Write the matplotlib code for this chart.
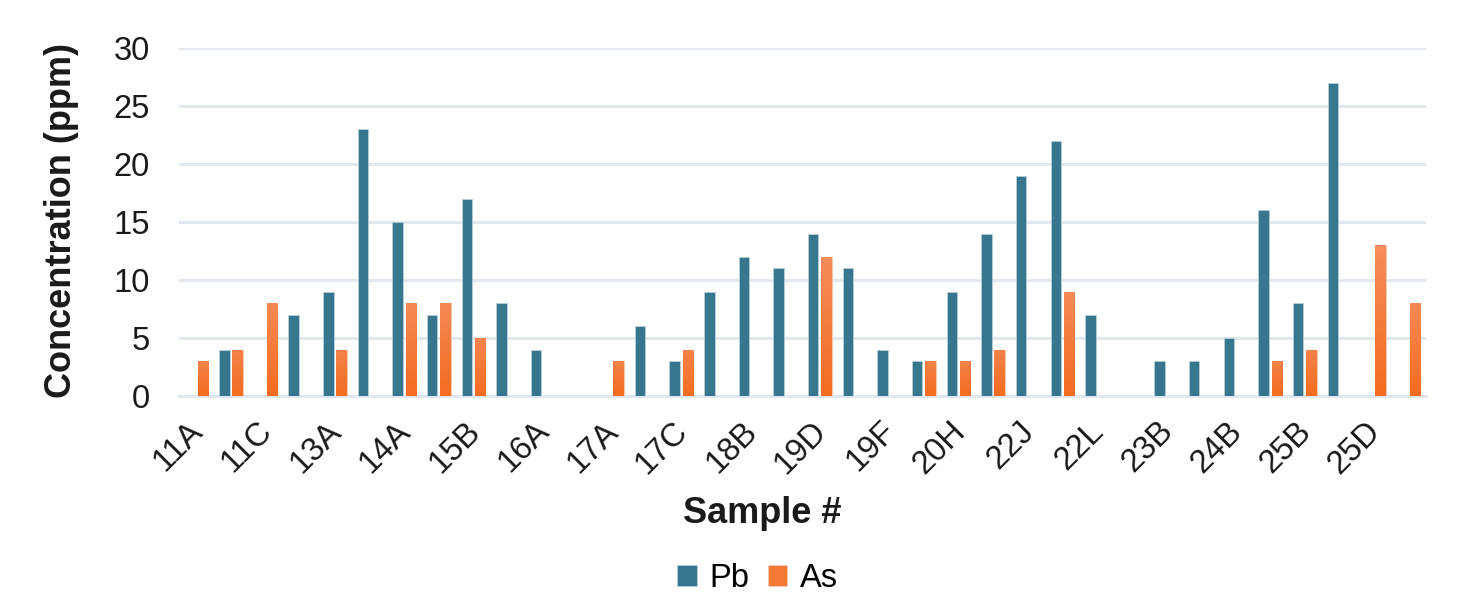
import matplotlib.pyplot as plt
import numpy as np
from matplotlib.colors import LinearSegmentedColormap
from matplotlib.transforms import ScaledTranslation

plt.rcParams['font.family'] = ['Liberation Sans', 'DejaVu Sans']

samples = ["11A", "11B", "11C", "12A", "13A", "13B", "14A", "14B", "15B", "15C",
           "16A", "16B", "17A", "17B", "17C", "18A", "18B", "19A", "19D", "19E",
           "19F", "20G", "20H", "21I", "22J", "22K", "22L", "23A", "23B", "24A",
           "24B", "25A", "25B", "25C", "25D", "25E"]
pb = [0, 4, 0, 7, 9, 23, 15, 7, 17, 8,
      4, 0, 0, 6, 3, 9, 12, 11, 14, 11,
      4, 3, 9, 14, 19, 22, 7, 0, 3, 3,
      5, 16, 8, 27, 0, 0]
arsenic = [3, 4, 8, 0, 4, 0, 8, 8, 5, 0,
           0, 0, 3, 0, 4, 0, 0, 0, 12, 0,
           0, 3, 3, 4, 0, 9, 0, 0, 0, 0,
           0, 3, 4, 0, 13, 8]

pb_color = "#37768F"
as_color = "#F47A36"
grid_color = "#E1E7EF"

fig = plt.figure(figsize=(14.71, 6.01), dpi=100)
ax = fig.add_axes([0.1217, 0.341, 0.8477, 0.579])

x = np.arange(len(samples))
w = 0.3
ax.bar(x - 0.19, pb, w, color=pb_color, edgecolor="#B9CFD8", linewidth=0.6, label="Pb", zorder=3)
as_bars = ax.bar(x + 0.19, arsenic, w, color=as_color, edgecolor="#FAC9AE", linewidth=0.6,
                 label="As", zorder=3)

# orange bars fade lighter towards the top
grad = LinearSegmentedColormap.from_list("asgrad", ["#F36C20", "#F68D5C"])
for b in as_bars:
    h = b.get_height()
    if h <= 0:
        continue
    im = ax.imshow(np.linspace(0, 1, 100).reshape(-1, 1) * (h / 13.0) ** 0.3, cmap=grad,
                   vmin=0, vmax=1, origin="lower", aspect="auto", zorder=3.2,
                   extent=[b.get_x(), b.get_x() + b.get_width(), 0, h])
    im.set_clip_path(b)

ax.set_xlim(-0.5, len(samples) - 0.5)
ax.set_ylim(0, 30)
ax.set_yticks(range(0, 31, 5))
ax.yaxis.grid(True, color=grid_color, linewidth=2.2, zorder=0)
ax.set_axisbelow(True)
for s in ["top", "right", "left"]:
    ax.spines[s].set_visible(False)
ax.spines["bottom"].set_color(grid_color)
ax.spines["bottom"].set_linewidth(2.2)

ax.set_xticks(x[::2])
ax.set_xticklabels(samples[::2], rotation=45, ha="right", rotation_mode="anchor")
ax.tick_params(axis="both", length=0, labelsize=23.5, labelcolor="#1a1a1a")
ax.tick_params(axis="y", pad=21)
ax.tick_params(axis="x", pad=14)
shift = ScaledTranslation(-9 / 100, 0, fig.dpi_scale_trans)
for lab in ax.get_xticklabels():
    lab.set_transform(lab.get_transform() + shift)

fig.text(62 / 1471, 1 - 221 / 601, "Concentration (ppm)", fontsize=26, fontweight="bold",
         rotation=90, ha="center", va="center", color="#1a1a1a")
fig.text(0.518, 0.146, "Sample #", fontsize=26, fontweight="bold", ha="center", va="center",
         color="#1a1a1a")

fig.legend(loc="center", bbox_to_anchor=(0.515, 0.038), ncol=2, frameon=False,
           fontsize=23.5, handlelength=0.6, handleheight=0.6, columnspacing=0.55,
           handletextpad=0.4)

fig.savefig("out.png", dpi=100)
